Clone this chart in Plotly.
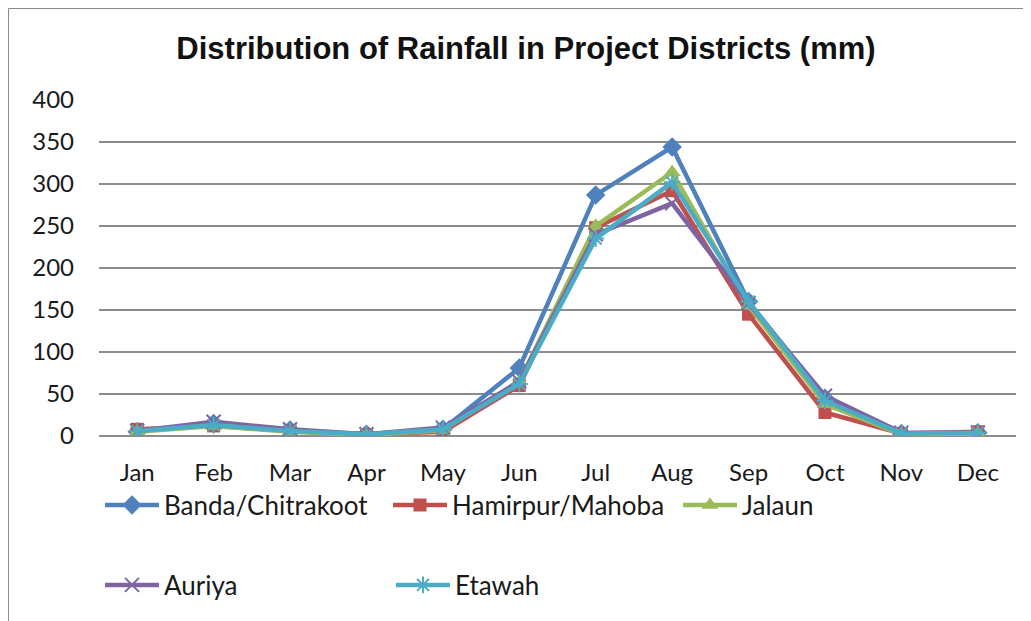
import plotly.graph_objects as go

months = ["Jan", "Feb", "Mar", "Apr", "May", "Jun", "Jul", "Aug", "Sep", "Oct", "Nov", "Dec"]
banda = [5, 15, 7, 2, 8, 81, 287, 344, 160, 45, 3, 4]
hamirpur = [8, 12, 6, 2, 5, 60, 248, 292, 145, 28, 3, 5]
jalaun = [5, 12, 5, 1, 7, 65, 250, 314, 155, 38, 2, 3]
auriya = [6, 17, 8, 2, 10, 65, 240, 277, 158, 48, 4, 4]
etawah = [6, 13, 6, 2, 8, 62, 235, 302, 160, 42, 3, 4]
yticks = [0, 50, 100, 150, 200, 250, 300, 350, 400]

W, H = 1031, 621
OFF = 8  # page body margin
# plot area in page pixels: x 99..1016, y 100..436
L = 99 - OFF
T = 100 - OFF
R = W - (1016 - OFF)
B = H - (436 - OFF)

# (name, values, colour, marker, legend id, legend text-start px, legend row centre px)
series = [
    ("Banda/Chitrakoot", banda, "#4F81BD", dict(symbol="diamond", size=15), "legend", 165, 505),
    ("Hamirpur/Mahoba", hamirpur, "#C0504D", dict(symbol="square", size=13), "legend2", 453, 505),
    ("Jalaun", jalaun, "#9BBB59", dict(symbol="triangle-up", size=15), "legend3", 743, 505),
    ("Auriya", auriya, "#8064A2", dict(symbol="x-thin-open", size=14, line=dict(width=2)), "legend4", 165, 585),
    ("Etawah", etawah, "#4BACC6", dict(symbol="asterisk-open", size=14, line=dict(width=2)), "legend5", 456, 585),
]

fig = go.Figure()
legend_font = dict(family="Lato, Carlito, sans-serif", size=26, color="#1a1a1a")
ITEMW = 54
layout_legends = {}
for name, vals, color, mk, lg, tx, ty in series:
    m = dict(color=color, **mk)
    if "line" in m:
        m["line"]["color"] = color
    fig.add_trace(go.Scatter(x=months, y=vals, name=name, mode="lines+markers",
                             line=dict(color=color, width=4.5), marker=m, legend=lg))
    layout_legends[lg] = dict(orientation="h", xref="container", yref="container",
                              x=(tx - OFF - 11 - ITEMW) / W, xanchor="left",
                              y=1 - (ty - OFF) / H, yanchor="middle",
                              font=legend_font, itemwidth=ITEMW, bgcolor="rgba(0,0,0,0)")

pw, ph = W - L - R, H - T - B
def px(xp):
    return (xp - L) / pw
def py(yp):
    return (H - B - yp) / ph

fig.add_shape(type="rect", xref="paper", yref="paper",
              x0=px(0.5), x1=px(1060), y0=py(660), y1=py(0.5),
              line=dict(color="#8a8a8a", width=1), fillcolor="rgba(0,0,0,0)", layer="below")

tickfont = dict(family="Lato, Carlito, sans-serif", size=24, color="#1a1a1a")
fig.update_layout(
    width=W, height=H,
    margin=dict(l=L, r=R, t=T, b=B, autoexpand=False),
    paper_bgcolor="white", plot_bgcolor="white",
    title=dict(text="<b>Distribution of Rainfall in Project Districts (mm)</b>",
               x=(526 - OFF) / W, xanchor="center", y=1 - (48 - OFF) / H, yanchor="middle",
               font=dict(family="Liberation Sans, Arial, sans-serif", size=31, color="#111")),
    xaxis=dict(type="category", showgrid=False, showline=False, ticks="",
               tickfont=tickfont, ticklabelstandoff=20, range=[-0.5, 11.5]),
    yaxis=dict(range=[0, 400], tickvals=yticks, showgrid=True, gridcolor="#8c8c8c", gridwidth=1.5,
               zeroline=True, zerolinecolor="#8c8c8c", zerolinewidth=1.5,
               showline=False, ticks="", tickfont=tickfont, ticklabelstandoff=24),
    showlegend=True,
    **layout_legends,
)

fig.write_html("out.html")
